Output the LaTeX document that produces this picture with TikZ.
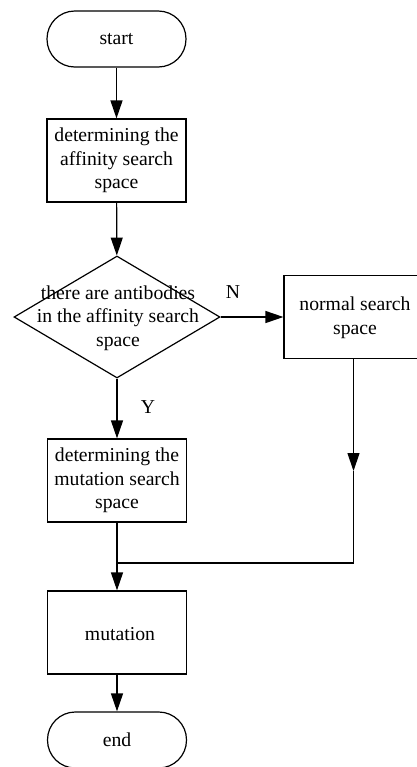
\documentclass[tikz,border=0pt]{standalone}
\usepackage{fontspec}
\setmainfont{Liberation Serif}
\usetikzlibrary{arrows.meta,shapes.geometric}
\begin{document}
\begin{tikzpicture}[x=0.5pt,y=-0.5pt,
  line width=0.6pt,
  every node/.style={font=\fontsize{9.85pt}{11.75pt}\selectfont},
  term/.style={draw,rectangle,rounded corners=13.9pt,minimum width=69.5pt,minimum height=28pt,inner sep=0pt},
  proc/.style={draw,rectangle,minimum width=69.5pt,minimum height=41.5pt,inner sep=0pt,align=center},
  dec/.style={draw,diamond,minimum width=103pt,minimum height=61pt,inner sep=0pt},
  arr/.style={-{Triangle[length=9pt,width=6pt]}}
]
\useasboundingbox (0,0) rectangle (417,767);
\clip (0,0) rectangle (417,767);
\node[term] (start) at (116.5,39) {start};
\node[proc] (b1) at (116.5,160.5) {determining the\\affinity search\\space};
\node[dec] (d) at (117,317) {};
\node[align=center,inner sep=0pt] (dt) at (118,318) {there are antibodies\\in the affinity search\\space};
\node[proc] (ns) at (353.5,317) {};
\node[align=center,inner sep=0pt] (nst) at (355,318) {normal search\\space};
\node[proc] (b2) at (117,480.5) {determining the\\mutation search\\space};
\node[proc] (mu) at (117,632.5) {};
\node[inner sep=0pt] (mut) at (120,634) {mutation};
\node[term] (en) at (117,740) {end};
\node[inner sep=0pt] (N) at (233,292) {N};
\node[inner sep=0pt] (Y) at (148,407) {Y};
\coordinate (ra) at (353.5,471);
\coordinate (rc) at (353.5,563);
\coordinate (jn) at (117,563);
\draw[arr] (start) -- (b1);
\draw[arr] (b1) -- (d);
\draw[arr] (d.east) -- (ns.west);
\draw[arr] (d.south) -- (b2);
\draw[arr] (b2) -- (mu);
\draw[arr] (mu) -- (en);
\draw[arr] (ns.south) -- (ra);
\draw (ra) -- (rc) -- (jn);
\end{tikzpicture}
\end{document}
